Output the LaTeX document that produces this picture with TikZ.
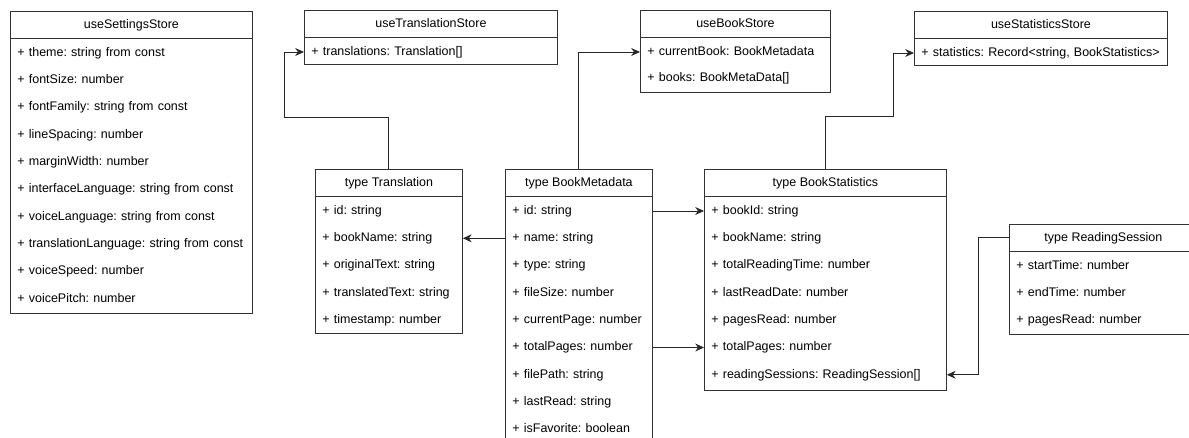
\documentclass[tikz,border=0pt]{standalone}
\usepackage{fontspec}
\setmainfont{Liberation Sans}
\usetikzlibrary{arrows.meta,positioning}
\frenchspacing

\begin{document}
\begin{tikzpicture}[x=0.02cm,y=-0.02cm,draw=black!80,line width=0.5pt,
    >={Stealth[length=5pt,width=4.5pt]},font=\fontsize{7.1pt}{8.5pt}\selectfont]
    \tikzstyle{box}=[draw,anchor=north west,inner sep=0pt]
    \tikzstyle{head}=[draw,anchor=north west,minimum height=0.54cm,inner sep=0pt,
        text height=5.3pt,text depth=1.5pt]
    \tikzstyle{row}=[anchor=west,inner xsep=0.14cm,inner ysep=0pt,align=left,
        text height=5.3pt,text depth=1.5pt]
    \tikzstyle{link}=[->,draw=black!85]
    \useasboundingbox (0,0) rectangle (1189,438);

    % Stores
    \node[box,minimum width=4.84cm,minimum height=6.04cm] (ss) at (10,11) {};
    \node[head,minimum width=4.84cm] (ss-h) at (ss.north west) {useSettingsStore};
    \foreach \i/\txt in {1/theme: string from const,2/fontSize: number,3/fontFamily: string from const,
        4/lineSpacing: number,5/marginWidth: number,6/interfaceLanguage: string from const,
        7/voiceLanguage: string from const,8/translationLanguage: string from const,
        9/voiceSpeed: number,10/voicePitch: number}
        \node[row,text width=4.56cm] (ss-\i) at (10,{38+15+27.3*(\i-1)}) {\mbox{+ \txt}};

    \node[box,minimum width=5.06cm,minimum height=1.08cm] (uts) at (304,10) {};
    \node[head,minimum width=5.06cm] (uts-h) at (uts.north west) {useTranslationStore};
    \node[row,text width=4.78cm] (uts-1) at (304,52) {\mbox{+ translations: Translation[]}};

    \node[box,minimum width=3.8cm,minimum height=1.64cm] (ubs) at (640,10) {};
    \node[head,minimum width=3.8cm] (ubs-h) at (ubs.north west) {useBookStore};
    \node[row,text width=3.52cm] (ubs-1) at (640,52) {\mbox{+ currentBook: BookMetadata}};
    \node[row,text width=3.52cm] (ubs-2) at (640,78) {\mbox{+ books: BookMetaData[]}};

    \node[box,minimum width=5.06cm,minimum height=1.08cm] (ust) at (914,11) {};
    \node[head,minimum width=5.06cm] (ust-h) at (ust.north west) {useStatisticsStore};
    \node[row,text width=4.78cm] (ust-1) at (914,53) {\mbox{+ statistics: Record<string, BookStatistics>}};

    % Types
    \node[box,minimum width=2.94cm,minimum height=3.28cm] (tr) at (315,169) {};
    \node[head,minimum width=2.94cm] (tr-h) at (tr.north west) {type Translation};
    \foreach \i/\txt in {1/id: string,2/bookName: string,3/originalText: string,
        4/translatedText: string,5/timestamp: number}
        \node[row,text width=2.66cm] (tr-\i) at (315,{196+15+27.3*(\i-1)}) {\mbox{+ \txt}};

    \node[box,minimum width=2.94cm,minimum height=5.52cm] (bm) at (505,169) {};
    \node[head,minimum width=2.94cm] (bm-h) at (bm.north west) {type BookMetadata};
    \foreach \i/\txt in {1/id: string,2/name: string,3/type: string,4/fileSize: number,
        5/currentPage: number,6/totalPages: number,7/filePath: string,8/lastRead: string,
        9/isFavorite: boolean}
        \node[row,text width=2.66cm] (bm-\i) at (505,{196+15+27.3*(\i-1)}) {\mbox{+ \txt}};

    \node[box,minimum width=4.84cm,minimum height=4.42cm] (bs) at (704,169) {};
    \node[head,minimum width=4.84cm] (bs-h) at (bs.north west) {type BookStatistics};
    \foreach \i/\txt in {1/bookId: string,2/bookName: string,3/totalReadingTime: number,
        4/lastReadDate: number,5/pagesRead: number,6/totalPages: number,
        7/readingSessions: ReadingSession[]}
        \node[row,text width=4.56cm] (bs-\i) at (704,{196+15+27.3*(\i-1)}) {\mbox{+ \txt}};

    \node[box,minimum width=3.76cm,minimum height=2.2cm] (rs) at (1009,224) {};
    \node[head,minimum width=3.76cm] (rs-h) at (rs.north west) {type ReadingSession};
    \foreach \i/\txt in {1/startTime: number,2/endTime: number,3/pagesRead: number}
        \node[row,text width=3.48cm] (rs-\i) at (1009,{251+15+27.3*(\i-1)}) {\mbox{+ \txt}};

    % Links
    \draw[link] (tr-h.north) -- ++(0,-52) -- ++(-104.5,0) |- (uts-1.west);
    \draw[link] (bm-h.north) |- (ubs-1.west);
    \draw[link] (bs-h.north) -- ++(0,-53) -- ++(68,0) |- (ust-1.west);
    \draw[link] (bm-2.west) -- (tr-2.east);
    \draw[link] (bm-1.east) -- (bs-1.west);
    \draw[link] (bm-6.east) -- (bs-6.west);
    \draw[link] (rs-h.west) -- ++(-31,0) |- (bs-7.east);
\end{tikzpicture}
\end{document}
